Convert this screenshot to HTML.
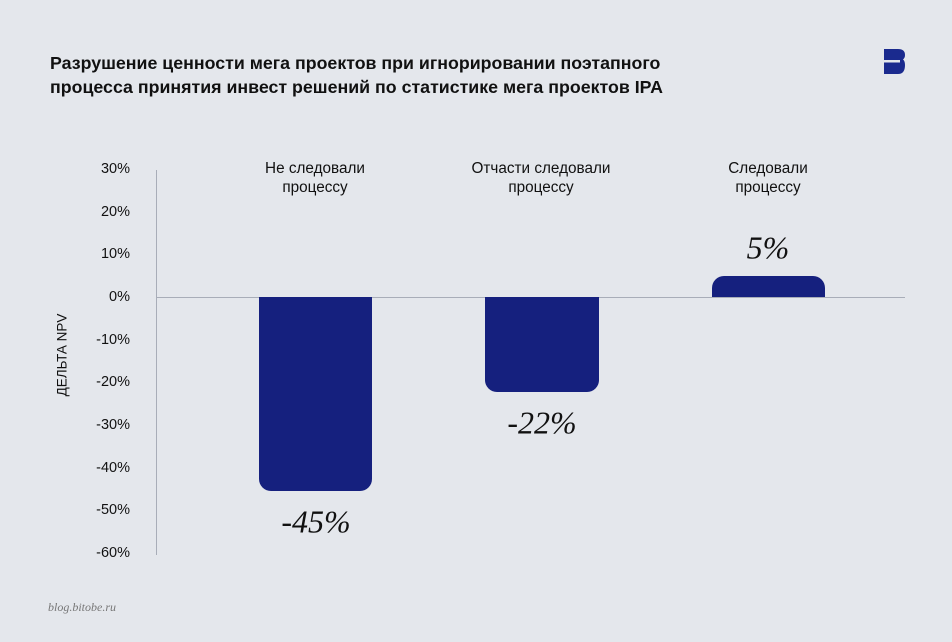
<!DOCTYPE html>
<html><head><meta charset="utf-8"><style>
body{margin:0;width:952px;height:642px;background:#e4e7ec;font-family:"Liberation Sans",sans-serif;position:relative;overflow:hidden;color:#111}
.t{position:absolute;left:50px;top:51px;font-weight:bold;font-size:17.8px;line-height:24px}
.tk{position:absolute;right:822px;font-size:14.5px;transform:translateY(-50%)}
.cat{position:absolute;width:220px;text-align:center;font-size:15.3px;line-height:19px;top:159px}
.v{position:absolute;width:160px;text-align:center;font-family:"Liberation Serif",serif;font-style:italic;font-size:32px;transform:translateY(-50%)}
.bar{position:absolute;background:#15207e}
</style></head><body>
<div class="t">Разрушение ценности мега проектов при игнорировании поэтапного<br>процесса принятия инвест решений по статистике мега проектов IPA</div>
<svg style="position:absolute;left:884px;top:49px" width="22" height="25" viewBox="0 0 22 25"><path d="M0 0H14Q21 0 21 6Q21 9 19 10.5Q21 12 21 16Q21 25 14 25H0Z" fill="#1a2a8e"/><rect x="0" y="11" width="16" height="2.5" fill="#e4e7ec"/></svg>
<div style="position:absolute;left:156px;top:170px;width:1px;height:385px;background:#a8adb8"></div>
<div style="position:absolute;left:156px;top:297px;width:749px;height:1px;background:#a8adb8"></div>
<div class="tk" style="top:169px">30%</div>
<div class="tk" style="top:212px">20%</div>
<div class="tk" style="top:254px">10%</div>
<div class="tk" style="top:297px">0%</div>
<div class="tk" style="top:340px">-10%</div>
<div class="tk" style="top:382px">-20%</div>
<div class="tk" style="top:425px">-30%</div>
<div class="tk" style="top:468px">-40%</div>
<div class="tk" style="top:510px">-50%</div>
<div class="tk" style="top:553px">-60%</div>
<div style="position:absolute;left:62px;top:355px;transform:translate(-50%,-50%) rotate(-90deg);font-size:13.5px;white-space:nowrap">ДЕЛЬТА NPV</div>
<div class="cat" style="left:205px">Не следовали<br>процессу</div>
<div class="cat" style="left:431px">Отчасти следовали<br>процессу</div>
<div class="cat" style="left:658px">Следовали<br>процессу</div>
<div class="bar" style="left:259px;top:297px;width:113px;height:194px;border-radius:0 0 12px 12px"></div>
<div class="bar" style="left:485px;top:297px;width:114px;height:95px;border-radius:0 0 12px 12px"></div>
<div class="bar" style="left:712px;top:276px;width:113px;height:21px;border-radius:12px 12px 0 0"></div>
<div class="v" style="left:236px;top:522px">-45%</div>
<div class="v" style="left:462px;top:423px">-22%</div>
<div class="v" style="left:688px;top:248px">5%</div>
<div style="position:absolute;left:48px;top:600px;font-family:'Liberation Serif',serif;font-style:italic;font-size:12px;color:#777">blog.bitobe.ru</div>
</body></html>
